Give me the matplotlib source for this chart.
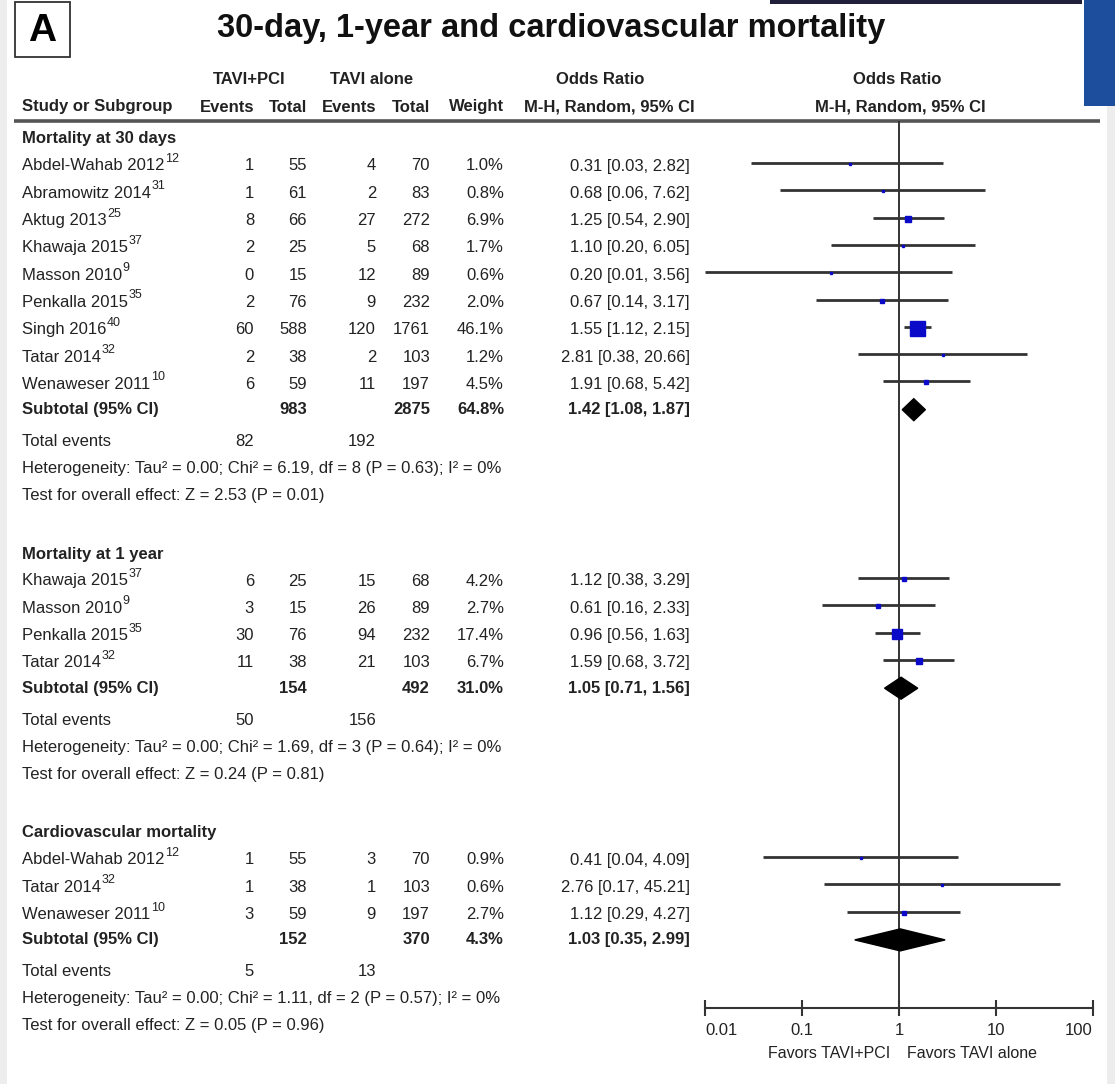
import matplotlib
matplotlib.use("Agg")
import matplotlib.pyplot as plt
from matplotlib import font_manager
from matplotlib.patches import Rectangle, Polygon
import numpy as np

# ---- data ----
sections = ["Mortality at 30 days", "Mortality at 1 year", "Cardiovascular mortality"]

studies_30d = ["Abdel-Wahab 2012", "Abramowitz 2014", "Aktug 2013", "Khawaja 2015", "Masson 2010",
               "Penkalla 2015", "Singh 2016", "Tatar 2014", "Wenaweser 2011"]
refs_30d = ["12", "31", "25", "37", "9", "35", "40", "32", "10"]
ev1_30d = [1, 1, 8, 2, 0, 2, 60, 2, 6]
tot1_30d = [55, 61, 66, 25, 15, 76, 588, 38, 59]
ev2_30d = [4, 2, 27, 5, 12, 9, 120, 2, 11]
tot2_30d = [70, 83, 272, 68, 89, 232, 1761, 103, 197]
w_30d = [1.0, 0.8, 6.9, 1.7, 0.6, 2.0, 46.1, 1.2, 4.5]
or_30d = [0.31, 0.68, 1.25, 1.10, 0.20, 0.67, 1.55, 2.81, 1.91]
lo_30d = [0.03, 0.06, 0.54, 0.20, 0.01, 0.14, 1.12, 0.38, 0.68]
hi_30d = [2.82, 7.62, 2.90, 6.05, 3.56, 3.17, 2.15, 20.66, 5.42]

studies_1y = ["Khawaja 2015", "Masson 2010", "Penkalla 2015", "Tatar 2014"]
refs_1y = ["37", "9", "35", "32"]
ev1_1y = [6, 3, 30, 11]
tot1_1y = [25, 15, 76, 38]
ev2_1y = [15, 26, 94, 21]
tot2_1y = [68, 89, 232, 103]
w_1y = [4.2, 2.7, 17.4, 6.7]
or_1y = [1.12, 0.61, 0.96, 1.59]
lo_1y = [0.38, 0.16, 0.56, 0.68]
hi_1y = [3.29, 2.33, 1.63, 3.72]

studies_cv = ["Abdel-Wahab 2012", "Tatar 2014", "Wenaweser 2011"]
refs_cv = ["12", "32", "10"]
ev1_cv = [1, 1, 3]
tot1_cv = [55, 38, 59]
ev2_cv = [3, 1, 9]
tot2_cv = [70, 103, 197]
w_cv = [0.9, 0.6, 2.7]
or_cv = [0.41, 2.76, 1.12]
lo_cv = [0.04, 0.17, 0.29]
hi_cv = [4.09, 45.21, 4.27]

sub_tot1 = [983, 154, 152]
sub_tot2 = [2875, 492, 370]
sub_w = [64.8, 31.0, 4.3]
sub_or = [1.42, 1.05, 1.03]
sub_lo = [1.08, 0.71, 0.35]
sub_hi = [1.87, 1.56, 2.99]
tot_ev1 = [82, 50, 5]
tot_ev2 = [192, 156, 13]
chi2 = [6.19, 1.69, 1.11]
dfs = [8, 3, 2]
p_het = [0.63, 0.64, 0.57]
z_val = [2.53, 0.24, 0.05]
p_z = [0.01, 0.81, 0.96]

tick_vals = [0.01, 0.1, 1, 10, 100]
tick_labels = ["0.01", "0.1", "1", "10", "100"]

# ---- fonts ----
names = {f.name for f in font_manager.fontManager.ttflist}
narrow = "Liberation Sans Narrow" if "Liberation Sans Narrow" in names else "Liberation Sans"
fs = 13.5 if narrow == "Liberation Sans Narrow" else 12
plt.rcParams["font.family"] = [narrow, "DejaVu Sans"]
txt_c = "#222222"

W, H = 1115, 1084
fig = plt.figure(figsize=(W / 100, H / 100), dpi=100)
bg = fig.add_axes([0, 0, 1, 1])
bg.set_xlim(0, W)
bg.set_ylim(H, 0)
bg.axis("off")

# stray bits of the surrounding slide
bg.add_patch(Rectangle((0, 0), 7, H, color="#ededed", lw=0))
bg.add_patch(Rectangle((1107, 100), 8, H, color="#ededed", lw=0))
bg.add_patch(Rectangle((1084, 0), 31, 106, color="#1d4e9e", lw=0))
bg.add_patch(Rectangle((770, 0), 312, 4, color="#20203a", lw=0))

# panel letter and title
bg.add_patch(Rectangle((15, 2), 55, 55, fill=False, ec="#333333", lw=1.3))
bg.text(42.5, 31, "A", ha="center", va="center", fontsize=28, fontweight="bold",
        family=["Liberation Sans", "DejaVu Sans"])
bg.text(551, 28, "30-day, 1-year and cardiovascular mortality", ha="center", va="center",
        fontsize=23.5, fontweight="bold", family=["Liberation Sans", "DejaVu Sans"], color="#111111")

# column positions (right edges)
x_name, x_e1, x_t1, x_e2, x_t2, x_w, x_ci = 22, 254, 307, 376, 430, 504, 690

def put(x, y, s, ha="right", bold=False, size=fs):
    return bg.text(x, y, s, ha=ha, va="center", fontsize=size, color=txt_c,
                   fontweight="bold" if bold else "normal")

# header
put(249, 80, "TAVI+PCI", ha="center", bold=True)
put(372, 80, "TAVI alone", ha="center", bold=True)
put(600, 80, "Odds Ratio", ha="center", bold=True)
put(897, 80, "Odds Ratio", ha="center", bold=True)
put(x_name, 107, "Study or Subgroup", ha="left", bold=True)
for x, s in [(x_e1, "Events"), (x_t1, "Total"), (x_e2, "Events"), (x_t2, "Total"), (x_w, "Weight")]:
    put(x, 107, s, bold=True)
put(609, 107, "M-H, Random, 95% CI", ha="center", bold=True)
put(900, 107, "M-H, Random, 95% CI", ha="center", bold=True)
bg.plot([14, 1100], [121, 121], color="#555555", lw=2.6, solid_capstyle="butt")

# forest axes: x log scale, y in pixel rows
ax_top, ax_bot, x0, x1 = 121, 1008, 705, 1093
fa = fig.add_axes([x0 / W, (H - ax_bot) / H, (x1 - x0) / W, (ax_bot - ax_top) / H])
fa.set_xscale("log")
fa.set_xlim(tick_vals[0], tick_vals[-1])
fa.set_ylim(ax_bot, ax_top)
fa.patch.set_alpha(0)
for s in ["top", "left", "right"]:
    fa.spines[s].set_visible(False)
fa.spines["bottom"].set_linewidth(1.5)
fa.spines["bottom"].set_color("#333333")
fa.set_yticks([])
fa.set_xticks(tick_vals)
fa.set_xticklabels(tick_labels)
fa.xaxis.set_minor_locator(matplotlib.ticker.NullLocator())
fa.tick_params(axis="x", direction="inout", length=11, width=1.5, color="#333333",
               labelsize=fs, labelcolor=txt_c, pad=5)
labs = fa.get_xticklabels()
labs[0].set_ha("left")
labs[-1].set_ha("right")
fa.axvline(1, color="#333333", lw=1.4, zorder=1)

renderer = fig.canvas.get_renderer()
inv = bg.transData.inverted()

def name_with_ref(y, name, ref):
    t = put(x_name, y, name, ha="left")
    bb = t.get_window_extent(renderer)
    xr = inv.transform((bb.x1, bb.y1))[0]
    bg.text(xr + 0.5, y - 7, ref, ha="left", va="center", fontsize=fs - 3, color=txt_c)

section_data = [
    (studies_30d, refs_30d, ev1_30d, tot1_30d, ev2_30d, tot2_30d, w_30d, or_30d, lo_30d, hi_30d),
    (studies_1y, refs_1y, ev1_1y, tot1_1y, ev2_1y, tot2_1y, w_1y, or_1y, lo_1y, hi_1y),
    (studies_cv, refs_cv, ev1_cv, tot1_cv, ev2_cv, tot2_cv, w_cv, or_cv, lo_cv, hi_cv),
]
section_y = [139, 554, 833]
step = 27.3

for k, (st, rf, e1, t1, e2, t2, w, o, lo, hi) in enumerate(section_data):
    y0 = section_y[k]
    put(x_name, y0, sections[k], ha="left", bold=True)
    for i in range(len(st)):
        y = y0 + 27 + i * step
        name_with_ref(y, st[i], rf[i])
        put(x_e1, y, str(e1[i]))
        put(x_t1, y, str(t1[i]))
        put(x_e2, y, str(e2[i]))
        put(x_t2, y, str(t2[i]))
        put(x_w, y, f"{w[i]:.1f}%")
        put(x_ci, y, f"{o[i]:.2f} [{lo[i]:.2f}, {hi[i]:.2f}]")
        yl = y - 3
        fa.plot([lo[i], hi[i]], [yl, yl], color="#333333", lw=2, solid_capstyle="butt", zorder=2)
        side = max(2.8, 15 * np.sqrt(w[i] / 46.1))
        fa.plot(o[i], yl + 1, marker="s", ms=side * 0.72, color="#0a0ac8", mec="#0a0ac8", zorder=3)
    ys = y0 + 27 + len(st) * step - 2
    put(x_name, ys, "Subtotal (95% CI)", ha="left", bold=True)
    put(x_t1, ys, str(sub_tot1[k]), bold=True)
    put(x_t2, ys, str(sub_tot2[k]), bold=True)
    put(x_w, ys, f"{sub_w[k]:.1f}%", bold=True)
    put(x_ci, ys, f"{sub_or[k]:.2f} [{sub_lo[k]:.2f}, {sub_hi[k]:.2f}]", bold=True)
    yd = ys
    fa.add_patch(Polygon([[sub_lo[k], yd], [sub_or[k], yd - 11], [sub_hi[k], yd], [sub_or[k], yd + 11]],
                         closed=True, color="black", zorder=3))
    yt = ys + 32
    put(x_name, yt, "Total events", ha="left")
    put(x_e1, yt, str(tot_ev1[k]))
    put(x_e2, yt, str(tot_ev2[k]))
    put(x_name, yt + 27, f"Heterogeneity: Tau\u00b2 = 0.00; Chi\u00b2 = {chi2[k]:.2f}, df = {dfs[k]} "
                         f"(P = {p_het[k]:.2f}); I\u00b2 = 0%", ha="left")
    put(x_name, yt + 54, f"Test for overall effect: Z = {z_val[k]:.2f} (P = {p_z[k]:.2f})", ha="left")

put(890, 1053, "Favors TAVI+PCI", ha="right", size=fs - 0.5)
put(907, 1053, "Favors TAVI alone", ha="left", size=fs - 0.5)

fig.savefig("out.png", dpi=100, facecolor="white")
